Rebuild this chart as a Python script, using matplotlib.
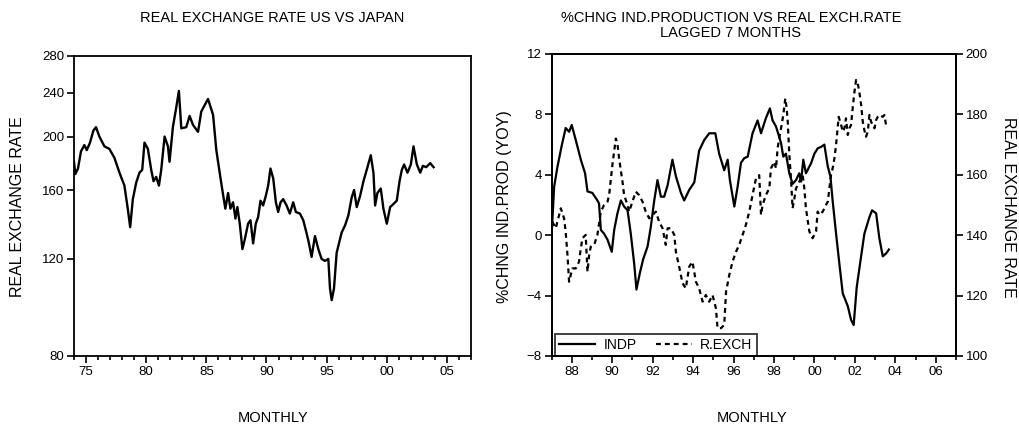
import numpy as np
import matplotlib
matplotlib.use("Agg")
import matplotlib.pyplot as plt
from matplotlib.ticker import FixedLocator, NullLocator, MultipleLocator

plt.rcParams['font.family'] = ['Liberation Sans', 'DejaVu Sans']

# === real exchange rate US vs Japan (left panel, log scale) ===
rer_year = [1974.00, 1974.11, 1974.33, 1974.58, 1974.86, 1975.06, 1975.33, 1975.61, 1975.83,
            1976.11, 1976.53, 1976.94, 1977.36, 1977.78, 1978.19, 1978.47, 1978.67, 1978.89,
            1979.17, 1979.44, 1979.67, 1979.86, 1980.14, 1980.42, 1980.61, 1980.83, 1981.06,
            1981.25, 1981.53, 1981.81, 1981.94, 1982.22, 1982.50, 1982.72, 1982.92, 1983.33,
            1983.61, 1983.89, 1984.31, 1984.58, 1984.86, 1985.14, 1985.56, 1985.83, 1986.11,
            1986.31, 1986.58, 1986.81, 1987.00, 1987.22, 1987.42, 1987.58, 1987.78, 1988.00,
            1988.19, 1988.47, 1988.67, 1988.89, 1989.11, 1989.31, 1989.50, 1989.72, 1989.94,
            1990.14, 1990.33, 1990.56, 1990.78, 1990.97, 1991.17, 1991.39, 1991.67, 1991.94,
            1992.22, 1992.44, 1992.78, 1993.06, 1993.28, 1993.50, 1993.75, 1994.03, 1994.31,
            1994.58, 1994.86, 1995.14, 1995.28, 1995.42, 1995.61, 1995.83, 1996.06, 1996.25,
            1996.53, 1996.81, 1997.08, 1997.28, 1997.50, 1997.78, 1998.06, 1998.33, 1998.67,
            1998.89, 1999.03, 1999.22, 1999.50, 1999.72, 2000.00, 2000.28, 2000.56, 2000.83,
            2001.06, 2001.25, 2001.44, 2001.72, 2002.00, 2002.22, 2002.50, 2002.78, 2003.00,
            2003.28, 2003.61, 2003.89]
rer_value = [180, 171, 175, 188, 193, 189, 195, 205, 208,
             200, 192, 190, 183, 172, 163, 148, 137, 154,
             165, 172, 174, 195, 190, 174, 166, 169, 163,
             174, 200, 192, 180, 208, 226, 242, 207, 208,
             218, 210, 204, 222, 228, 234, 219, 189, 172,
             161, 148, 158, 148, 152, 142, 149, 139, 125,
             130, 139, 141, 128, 139, 143, 153, 150, 156,
             163, 175, 168, 152, 146, 152, 154, 150, 145,
             152, 146, 145, 141, 135, 129, 121, 132, 125,
             120, 119, 120, 106, 101, 106, 123, 129, 134,
             138, 144, 155, 160, 149, 156, 166, 174, 185,
             172, 150, 158, 161, 148, 139, 149, 151, 153,
             166, 174, 178, 172, 178, 192, 178, 172, 177,
             176, 179, 176]

# === %chng industrial production (YoY) ===
indp_year = [1987.01, 1987.13, 1987.29, 1987.50, 1987.70, 1987.87, 1988.00, 1988.20, 1988.45,
             1988.66, 1988.78, 1989.02, 1989.27, 1989.35, 1989.44, 1989.60, 1989.77, 1989.98,
             1990.10, 1990.26, 1990.43, 1990.59, 1990.76, 1990.92, 1991.09, 1991.20, 1991.37,
             1991.53, 1991.75, 1991.91, 1992.08, 1992.24, 1992.41, 1992.57, 1992.74, 1992.98,
             1993.15, 1993.40, 1993.56, 1993.81, 1994.06, 1994.30, 1994.55, 1994.80, 1995.10,
             1995.29, 1995.54, 1995.71, 1995.82, 1996.04, 1996.20, 1996.37, 1996.53, 1996.70,
             1996.94, 1997.19, 1997.36, 1997.60, 1997.80, 1997.93, 1998.10, 1998.35, 1998.46,
             1998.59, 1998.76, 1998.92, 1999.09, 1999.25, 1999.34, 1999.45, 1999.58, 1999.83,
             2000.00, 2000.16, 2000.33, 2000.49, 2000.66, 2000.79, 2000.90, 2001.07, 2001.23,
             2001.40, 2001.65, 2001.81, 2001.94, 2002.09, 2002.26, 2002.47, 2002.72, 2002.85,
             2003.05, 2003.21, 2003.38, 2003.55, 2003.68]
indp_value = [0.1, 3.2, 4.5, 5.9, 7.1, 6.85, 7.3, 6.3, 5.0,
              4.1, 2.9, 2.8, 2.3, 2.1, 0.35, 0.1, -0.3, -1.1,
              0.35, 1.45, 2.3, 1.9, 1.65, 0.1, -1.9, -3.6, -2.5,
              -1.6, -0.75, 0.55, 2.3, 3.65, 2.55, 2.55, 3.3, 5.0,
              3.9, 2.8, 2.3, 3.0, 3.5, 5.6, 6.3, 6.75, 6.75,
              5.4, 4.3, 5.0, 3.65, 1.9, 3.2, 4.8, 5.1, 5.2,
              6.75, 7.6, 6.75, 7.75, 8.4, 7.6, 7.2, 6.1, 5.2,
              5.4, 4.1, 3.4, 3.65, 4.1, 3.55, 5.0, 4.1, 4.75,
              5.4, 5.75, 5.85, 6.0, 4.55, 3.9, 2.3, 0.1, -1.85,
              -3.85, -4.7, -5.6, -5.95, -3.45, -1.85, 0.1, 1.2, 1.65,
              1.45, -0.2, -1.4, -1.2, -0.95]

# === real exchange rate lagged 7 months (right axis) ===
rexch_year = [1987.04, 1987.21, 1987.46, 1987.62, 1987.70, 1987.79, 1987.87, 1988.03, 1988.20,
              1988.36, 1988.45, 1988.53, 1988.69, 1988.78, 1988.86, 1988.94, 1989.11, 1989.27,
              1989.44, 1989.60, 1989.77, 1989.85, 1990.01, 1990.18, 1990.26, 1990.34, 1990.51,
              1990.59, 1990.76, 1990.84, 1991.00, 1991.17, 1991.33, 1991.50, 1991.66, 1991.83,
              1992.16, 1992.32, 1992.49, 1992.65, 1992.74, 1992.90, 1993.07, 1993.15, 1993.31,
              1993.48, 1993.64, 1993.81, 1993.97, 1994.14, 1994.30, 1994.47, 1994.63, 1994.80,
              1994.96, 1995.13, 1995.21, 1995.38, 1995.54, 1995.63, 1995.79, 1995.95, 1996.12,
              1996.28, 1996.45, 1996.61, 1996.78, 1996.94, 1997.11, 1997.27, 1997.36, 1997.44,
              1997.60, 1997.77, 1997.85, 1998.02, 1998.10, 1998.18, 1998.26, 1998.35, 1998.46,
              1998.56, 1998.63, 1998.68, 1998.76, 1998.84, 1998.92, 1999.01, 1999.09, 1999.25,
              1999.42, 1999.50, 1999.58, 1999.75, 1999.91, 2000.08, 2000.16, 2000.25, 2000.41,
              2000.57, 2000.66, 2000.74, 2000.82, 2000.90, 2000.99, 2001.07, 2001.15, 2001.20,
              2001.32, 2001.40, 2001.48, 2001.56, 2001.65, 2001.73, 2001.81, 2001.89, 2001.98,
              2002.06, 2002.14, 2002.22, 2002.31, 2002.39, 2002.47, 2002.55, 2002.64, 2002.72,
              2002.80, 2002.88, 2002.97, 2003.05, 2003.13, 2003.21, 2003.38, 2003.46, 2003.54]
rexch_value = [144.5, 142.3, 148.9, 145.6, 141.2, 133.4, 124.6, 129.0, 129.0,
               131.2, 135.6, 139.0, 140.1, 127.9, 133.4, 136.2, 136.8, 140.1,
               147.8, 150.0, 151.1, 153.3, 163.2, 172.0, 170.4, 165.5, 157.7,
               153.3, 150.0, 147.8, 151.1, 154.4, 153.3, 151.1, 147.8, 145.6,
               147.8, 144.5, 142.3, 136.8, 142.3, 142.3, 140.1, 134.5, 129.6,
               124.1, 122.4, 129.6, 131.2, 124.6, 122.4, 118.0, 120.2, 118.0,
               120.2, 115.8, 109.2, 109.2, 110.3, 121.3, 126.8, 131.2, 134.5,
               136.8, 140.1, 143.4, 147.8, 153.3, 158.8, 159.9, 146.7, 150.0,
               153.3, 155.5, 162.1, 164.3, 162.1, 168.8, 172.1, 175.4, 179.8,
               185.3, 182.0, 177.6, 166.6, 158.8, 148.9, 152.2, 155.5, 157.7,
               159.9, 155.5, 148.9, 141.2, 139.0, 141.2, 147.8, 146.7, 147.8,
               150.0, 151.1, 155.5, 159.9, 162.1, 165.5, 169.9, 175.4, 179.2,
               176.5, 174.3, 175.4, 178.7, 173.2, 175.4, 176.5, 182.0, 187.5,
               191.4, 190.3, 187.5, 183.1, 177.6, 174.8, 172.6, 174.3, 179.8,
               177.6, 176.5, 175.4, 178.1, 179.2, 179.8, 179.2, 179.8, 176.5]

left_ticks = [80, 120, 160, 200, 240, 280]
left_years = [1975, 1980, 1985, 1990, 1995, 2000, 2005]
left_year_labels = ['75', '80', '85', '90', '95', '00', '05']
right_years = [1988, 1990, 1992, 1994, 1996, 1998, 2000, 2002, 2004, 2006]
right_year_labels = ['88', '90', '92', '94', '96', '98', '00', '02', '04', '06']
indp_ticks = [-8, -4, 0, 4, 8, 12]
rexch_ticks = [100, 120, 140, 160, 180, 200]

fig = plt.figure(figsize=(10.19, 4.25), dpi=100)

def style_axis(ax):
    for s in ax.spines.values():
        s.set_linewidth(1.3)
    ax.tick_params(which='major', direction='out', length=5, width=1.2, labelsize=9.5, pad=2)
    ax.tick_params(which='minor', direction='out', length=3, width=1.2)

# --- left panel ---
ax1 = fig.add_axes([74/1019, 69/425, 397/1019, 300/425])
ax1.plot(rer_year, rer_value, color='black', lw=1.7)
ax1.set_yscale('log')
ax1.set_ylim(80, 280)
ax1.set_xlim(1974, 2007)
ax1.yaxis.set_major_locator(FixedLocator(left_ticks))
ax1.yaxis.set_minor_locator(NullLocator())
ax1.set_yticklabels([str(v) for v in left_ticks])
ax1.set_xticks(left_years)
ax1.set_xticklabels(left_year_labels)
ax1.xaxis.set_minor_locator(MultipleLocator(1))
style_axis(ax1)

# --- right panel ---
ax2 = fig.add_axes([551.5/1019, 69/425, 404.5/1019, 302/425])
ax3 = ax2.twinx()
l1, = ax2.plot(indp_year, indp_value, color='black', lw=1.6, label='INDP')
l2, = ax3.plot(rexch_year, rexch_value, color='black', lw=1.6, ls=(0, (2.2, 1.8)), label='R.EXCH')
ax2.set_xlim(1987, 2007)
ax2.set_ylim(-8, 12)
ax3.set_ylim(100, 200)
ax2.set_yticks(indp_ticks)
ax3.set_yticks(rexch_ticks)
ax2.set_xticks(right_years)
ax2.set_xticklabels(right_year_labels)
ax2.xaxis.set_minor_locator(MultipleLocator(1))
style_axis(ax2)
style_axis(ax3)
leg = ax2.legend(handles=[l1, l2], loc='lower left', bbox_to_anchor=(0.008, 0.0), ncol=2,
                 fontsize=10, frameon=True, fancybox=False, borderaxespad=0,
                 handlelength=2.6, columnspacing=1.4, borderpad=0.3, handletextpad=0.6)
leg.get_frame().set_edgecolor('black')
leg.get_frame().set_linewidth(1.3)

# --- texts ---
fig.text(272/1019, 1 - 18/425, 'REAL EXCHANGE RATE US VS JAPAN', ha='center', va='center', fontsize=10.5)
fig.text(731/1019, 1 - 18/425, '%CHNG IND.PRODUCTION VS REAL EXCH.RATE', ha='center', va='center', fontsize=10.5)
fig.text(731/1019, 1 - 33/425, 'LAGGED 7 MONTHS', ha='center', va='center', fontsize=10.5)
fig.text(18/1019, 1 - 207/425, 'REAL EXCHANGE RATE', rotation=90, ha='center', va='center', fontsize=11.5)
fig.text(505/1019, 1 - 207/425, '%CHNG IND.PROD (YOY)', rotation=90, ha='center', va='center', fontsize=11.5)
fig.text(1008/1019, 1 - 207/425, 'REAL EXCHANGE RATE', rotation=270, ha='center', va='center', fontsize=11.5)
fig.text(273/1019, 1 - 418/425, 'MONTHLY', ha='center', va='center', fontsize=10.5)
fig.text(752/1019, 1 - 418/425, 'MONTHLY', ha='center', va='center', fontsize=10.5)

fig.savefig('out.png', dpi=100)
